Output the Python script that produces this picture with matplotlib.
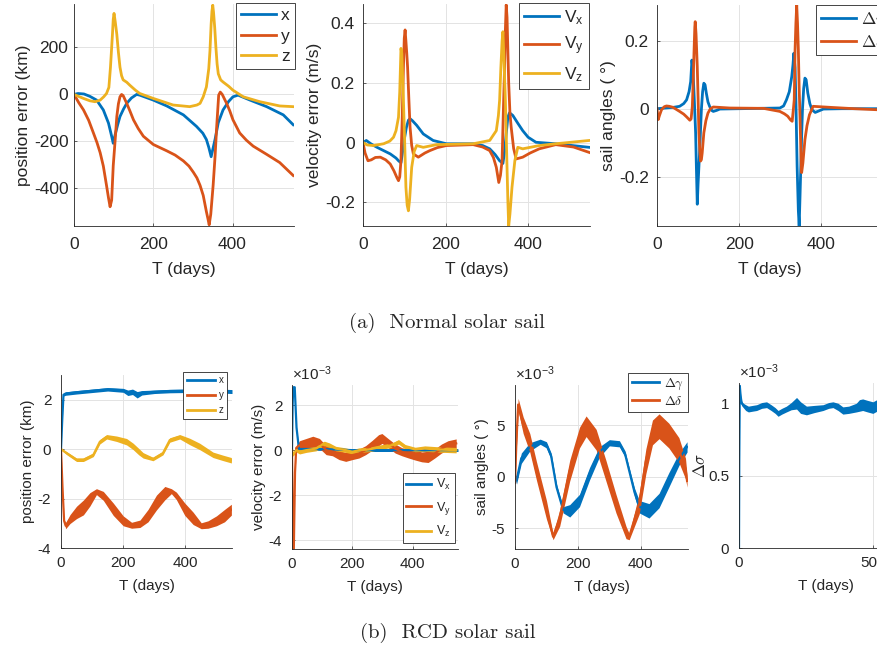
import matplotlib
matplotlib.use("Agg")
import matplotlib.pyplot as plt

W, H = 877, 653

BLUE = "#0072BD"
RED = "#D95319"
YEL = "#EDB120"
INK = "#262626"

# ---- (a) normal solar sail: position error (km)
pos_x_t = [0, 10, 25, 40, 57, 74, 87, 95, 99, 104, 110, 116, 125, 133, 145, 158, 166, 200, 234, 276, 309,
           325, 334, 340, 346, 350, 356, 364, 376, 390, 401, 414, 444, 486, 528, 553]
pos_x_v = [0, 4, 2, -8, -24, -66, -122, -178, -208, -170, -130, -94, -62, -38, -15, 0, -3, -24, -49, -87, -136,
           -165, -192, -225, -265, -235, -190, -120, -66, -30, -10, -3, -24, -52, -87, -129]
pos_y_t = [0, 12, 24, 37, 49, 58, 66, 74, 82, 87, 91, 95, 99, 104, 108, 112, 116, 120, 124, 133, 141, 150,
           162, 175, 200, 234, 255, 276, 290, 301, 310, 318, 326, 334, 338, 341, 345, 351, 356, 360, 365, 369,
           374, 385, 393, 401, 418, 435, 452, 486, 519, 553]
pos_y_v = [0, -35, -66, -110, -164, -205, -248, -305, -387, -440, -478, -450, -303, -190, -94, -40, -10, 0,
           -5, -38, -70, -108, -145, -178, -213, -240, -258, -283, -305, -331, -355, -387, -430, -499, -530,
           -555, -510, -387, -260, -136, -3, 10, 0, -38, -70, -108, -164, -195, -220, -255, -290, -345]
pos_z_t = [0, 24, 40, 53, 66, 75, 82, 88, 92, 95, 97, 99, 101, 104, 108, 112, 116, 120, 124, 133, 141, 155,
           166, 200, 250, 292, 310, 318, 326, 334, 340, 343, 346, 348, 350, 352, 355, 358, 361, 364, 370, 376,
           390, 401, 427, 469, 519, 553]
pos_z_v = [0, -17, -27, -31, -24, -10, 4, 30, 116, 200, 256, 320, 345, 310, 256, 180, 116, 80, 62, 52, 39,
           18, 4, -17, -45, -52, -45, -38, -10, 32, 110, 186, 300, 354, 380, 350, 284, 200, 130, 88, 62, 53,
           35, 18, -10, -31, -49, -52]

# velocity error (m/s)
vel_x_t = [0, 8, 20, 34, 50, 66, 80, 86, 92, 96, 100, 105, 110, 114, 120, 130, 146, 170, 202, 267, 290, 307,
           320, 331, 339, 343, 347, 351, 355, 363, 375, 387, 400, 419, 467, 548]
vel_x_v = [0, 0.007, -0.005, -0.016, -0.027, -0.038, -0.052, -0.061, -0.068, -0.03, 0.01, 0.05, 0.075, 0.08,
           0.073, 0.058, 0.029, 0.007, -0.004, -0.004, -0.01, -0.021, -0.04, -0.061, -0.07, -0.03, 0.03,
           0.085, 0.1, 0.091, 0.065, 0.04, 0.018, 0.001, -0.004, -0.016]
vel_y_t = [0, 5, 12, 20, 30, 42, 55, 66, 75, 82, 86, 89, 92, 95, 98, 100, 102, 104, 106, 108, 111, 114, 118,
           122, 134, 150, 162, 180, 202, 267, 290, 307, 316, 323, 329, 333, 337, 340, 343, 345, 347, 349, 351,
           353, 356, 359, 365, 371, 387, 405, 427, 467, 510, 548]
vel_y_v = [0, -0.035, -0.061, -0.058, -0.05, -0.049, -0.058, -0.072, -0.095, -0.117, -0.128, -0.115, -0.06,
           0.08, 0.254, 0.35, 0.378, 0.34, 0.3, 0.254, 0.15, 0.052, -0.01, -0.038, -0.049, -0.035, -0.027,
           -0.017, -0.01, -0.007, -0.015, -0.027, -0.05, -0.083, -0.134, -0.11, -0.06, 0.1, 0.254, 0.38,
           0.462, 0.42, 0.31, 0.2, 0.1, 0.052, -0.02, -0.055, -0.049, -0.035, -0.021, -0.007, -0.015, -0.033]
vel_z_t = [0, 10, 25, 50, 65, 74, 80, 86, 89, 92, 94, 96, 98, 101, 104, 107, 110, 113, 118, 124, 130, 146,
           178, 267, 307, 323, 328, 331, 334, 337, 339, 341, 343, 345, 348, 351, 353, 356, 361, 368, 375, 387,
           427, 467, 548]
vel_z_v = [0, -0.008, -0.01, -0.004, 0.005, 0.018, 0.04, 0.085, 0.17, 0.316, 0.3, 0.22, 0.142, 0.0, -0.15,
           -0.21, -0.229, -0.19, -0.083, -0.03, -0.01, -0.016, -0.007, -0.004, 0.007, 0.04, 0.09, 0.142, 0.25,
           0.34, 0.372, 0.3, 0.22, 0.142, -0.03, -0.196, -0.28, -0.24, -0.15, -0.06, -0.016, -0.021, -0.01,
           -0.004, 0.007]

# sail angles (deg)
ang_g_t = [0, 20, 40, 55, 65, 72, 78, 82, 85, 87, 89, 91, 94, 96, 98, 100, 102, 104, 106, 108, 111, 114, 117,
           120, 124, 128, 133, 137, 145, 153, 200, 250, 299, 308, 315, 322, 328, 331, 333, 336, 338, 341, 344,
           346, 348, 350, 352, 354, 357, 360, 363, 367, 372, 377, 385, 395, 405, 450, 500, 550]
ang_g_v = [0, 0.002, 0.004, 0.007, 0.015, 0.026, 0.05, 0.08, 0.143, 0.12, 0.075, 0.02, -0.071, -0.18, -0.281,
           -0.22, -0.17, -0.12, -0.06, -0.003, 0.05, 0.075, 0.07, 0.046, 0.02, 0.007, -0.005, -0.008, -0.005,
           -0.001, 0.0, 0.001, 0.002, 0.008, 0.026, 0.05, 0.095, 0.13, 0.163, 0.12, 0.026, -0.169, -0.3, -0.345,
           -0.26, -0.169, -0.08, -0.003, 0.06, 0.09, 0.085, 0.046, 0.015, -0.003, -0.011, -0.006, -0.001, 0.0,
           0.0, 0.0]
ang_d_t = [0, 3, 6, 11, 18, 23, 30, 39, 55, 65, 72, 80, 83, 86, 88, 90, 92, 93, 95, 98, 100, 102, 104, 106,
           108, 110, 114, 119, 124, 130, 137, 177, 259, 299, 310, 318, 325, 329, 332, 334, 336, 338, 340, 342,
           344, 346, 348, 350, 352, 355, 360, 365, 371, 380, 421, 480, 535, 550]
ang_d_v = [0, -0.032, -0.02, -0.003, 0.006, 0.008, 0.007, 0.004, -0.008, -0.016, -0.024, -0.034, -0.03, 0.007,
           0.08, 0.163, 0.24, 0.256, 0.22, 0.124, 0.03, -0.071, -0.12, -0.154, -0.15, -0.13, -0.071, -0.035,
           -0.013, 0.0, 0.005, 0.002, 0.001, -0.008, -0.015, -0.022, -0.033, -0.037, 0.0, 0.026, 0.173, 0.25,
           0.305, 0.25, 0.173, 0.06, -0.022, -0.12, -0.188, -0.16, -0.091, -0.05, -0.018, 0.007, 0.004, 0.0,
           -0.003, -0.003]

# ---- (b) RCD solar sail: noisy curves given as centre +- half width
rp_x_t = [0, 4, 8, 15, 50, 100, 150, 200, 215, 230, 245, 260, 300, 350, 400, 450, 500, 550]
rp_x_c = [0, 1.2, 2.2, 2.25, 2.3, 2.36, 2.42, 2.38, 2.28, 2.32, 2.2, 2.28, 2.32, 2.35, 2.36, 2.36, 2.36, 2.33]
rp_x_w = [0.02, 0.02, 0.05, 0.07, 0.07, 0.07, 0.07, 0.08, 0.11, 0.11, 0.13, 0.09, 0.07, 0.07, 0.07, 0.07, 0.08, 0.08]
rp_y_t = [0, 5, 10, 15, 29, 50, 72, 93, 114, 136, 168, 200, 227, 254, 280, 307, 334, 355, 371, 398, 425, 451,
          473, 500, 526, 548]
rp_y_c = [0, -1.6, -2.9, -3.1, -2.83, -2.56, -2.36, -2.03, -1.72, -1.89, -2.43, -2.9, -3.08, -3.02, -2.69,
          -2.16, -1.78, -1.7, -1.89, -2.43, -2.8, -3.1, -3.05, -2.9, -2.69, -2.45]
rp_y_w = [0.02, 0.02, 0.06, 0.12, 0.18, 0.25, 0.3, 0.27, 0.12, 0.18, 0.25, 0.2, 0.12, 0.15, 0.25, 0.3, 0.27,
          0.1, 0.15, 0.25, 0.25, 0.12, 0.15, 0.2, 0.25, 0.22]
rp_z_t = [0, 18, 50, 72, 104, 125, 147, 179, 211, 232, 250, 264, 296, 328, 350, 382, 414, 446, 489, 520, 548]
rp_z_c = [0, -0.16, -0.43, -0.43, -0.23, 0.3, 0.5, 0.42, 0.3, 0.11, -0.1, -0.25, -0.4, -0.16, 0.37, 0.5, 0.31,
          0.11, -0.23, -0.35, -0.45]
rp_z_w = [0.03, 0.06, 0.07, 0.07, 0.07, 0.09, 0.09, 0.11, 0.13, 0.13, 0.13, 0.11, 0.07, 0.07, 0.09, 0.09, 0.13,
          0.13, 0.11, 0.11, 0.11]

# velocity error, units of 1e-3 m/s
rv_x_t = [0, 2, 4, 9, 15, 23, 100, 200, 300, 400, 500, 550]
rv_x_c = [0, 2.0, 2.8, 2.8, 1.0, 0.05, 0.05, 0.0, 0.0, 0.0, 0.0, 0.0]
rv_x_w = [0.02, 0.02, 0.02, 0.02, 0.02, 0.05, 0.06, 0.06, 0.06, 0.06, 0.06, 0.06]
rv_y_t = [0, 3, 6, 10, 14, 25, 47, 69, 91, 113, 134, 156, 178, 200, 222, 244, 266, 287, 298, 320, 342, 364,
          386, 408, 430, 451, 473, 495, 517, 544]
rv_y_c = [0, -4.4, -4.4, -1.0, 0.1, 0.22, 0.3, 0.37, 0.3, 0.0, -0.07, -0.22, -0.3, -0.22, -0.15, 0.0, 0.22,
          0.44, 0.52, 0.3, 0.07, -0.07, -0.15, -0.22, -0.3, -0.3, -0.15, 0.07, 0.22, 0.3]
rv_y_w = [0.02, 0.02, 0.02, 0.05, 0.1, 0.2, 0.22, 0.25, 0.22, 0.2, 0.18, 0.2, 0.2, 0.2, 0.2, 0.2, 0.22, 0.25,
          0.22, 0.2, 0.2, 0.18, 0.2, 0.22, 0.22, 0.25, 0.2, 0.2, 0.2, 0.2]
rv_z_t = [0, 3, 14, 25, 47, 80, 107, 124, 145, 178, 200, 222, 255, 287, 331, 353, 375, 408, 440, 484, 544]
rv_z_c = [0, -0.22, 0, -0.07, 0, 0.07, 0.3, 0.22, 0.07, 0, -0.07, 0, 0.03, 0.12, 0.22, 0.37, 0.15, 0.03,
          0.07, 0.03, 0.0]
rv_z_w = [0.02, 0.05, 0.08, 0.1, 0.1, 0.1, 0.1, 0.1, 0.1, 0.1, 0.1, 0.1, 0.1, 0.1, 0.1, 0.1, 0.1, 0.1, 0.12,
          0.12, 0.12]

# sail angles, units of 1e-3 deg
ra_g_t = [0, 5, 20, 47, 80, 100, 115, 132, 153, 174, 205, 237, 268, 300, 332, 350, 363, 380, 395, 426, 458,
          489, 521, 547]
ra_g_c = [0, -0.3, 1.8, 2.9, 3.4, 3.1, 2.0, -1.0, -3.2, -3.3, -2.3, 0.3, 2.4, 3.3, 3.2, 2.2, 0.6, -1.5, -2.9,
          -3.3, -2.3, -0.3, 1.7, 2.9]
ra_g_w = [0.2, 0.4, 0.5, 0.4, 0.25, 0.3, 0.3, 0.3, 0.3, 0.6, 0.6, 0.6, 0.5, 0.3, 0.3, 0.3, 0.3, 0.4, 0.6, 0.7,
          0.7, 0.7, 0.6, 0.5]
ra_d_t = [0, 4, 10, 26, 47, 68, 100, 121, 142, 174, 205, 226, 258, 289, 321, 353, 363, 395, 416, 437, 458,
          489, 521, 542, 547]
ra_d_c = [-0.6, 3.0, 7.0, 5.0, 3.3, 0.6, -3.2, -5.8, -4.0, 0.6, 3.8, 4.9, 3.6, 0.6, -2.6, -5.4, -5.8, -2.6,
          1.5, 4.3, 4.9, 4.0, 2.6, 0.8, -0.4]
ra_d_w = [0.2, 0.5, 0.6, 0.8, 0.9, 0.9, 0.9, 0.3, 0.8, 1.0, 1.0, 1.0, 1.0, 1.0, 0.9, 0.6, 0.3, 1.0, 1.2, 1.2,
          1.2, 1.2, 1.2, 1.0, 0.6]

# sigma angle, units of 1e-3
rs_t = [0, 1, 3, 6, 10, 16, 25, 35, 50, 66, 85, 103, 120, 135, 146, 160, 177, 195, 215, 230, 252, 280, 314,
        335, 351, 370, 388, 410, 438, 450, 462, 480, 500, 515]
rs_c = [0, 0.6, 1.12, 1.05, 1.0, 0.985, 0.97, 0.96, 0.965, 0.97, 0.985, 0.99, 0.97, 0.95, 0.93, 0.945, 0.96,
        0.98, 1.0, 0.97, 0.95, 0.96, 0.97, 0.985, 0.99, 0.975, 0.95, 0.955, 0.97, 0.985, 0.99, 0.98, 0.97,
        0.985]
rs_w = [0.005, 0.01, 0.01, 0.015, 0.015, 0.015, 0.02, 0.02, 0.02, 0.02, 0.02, 0.02, 0.02, 0.02, 0.02, 0.02,
        0.02, 0.025, 0.04, 0.04, 0.03, 0.025, 0.02, 0.02, 0.02, 0.025, 0.025, 0.025, 0.03, 0.04, 0.04, 0.04,
        0.04, 0.04]

plt.rcParams["font.family"] = ["Liberation Sans", "DejaVu Sans"]
plt.rcParams["axes.unicode_minus"] = False
plt.rcParams["mathtext.default"] = "regular"

fig = plt.figure(figsize=(W / 100, H / 100), dpi=100)

GAMMA = r"$\mathrm{\Delta}\mathit{\gamma}$"
DELTA = r"$\mathrm{\Delta}\mathit{\delta}$"
SIGMA = r"$\mathrm{\Delta}\mathit{\sigma}$"


def add_ax(left, top, width, height):
    return fig.add_axes([left / W, 1 - (top + height) / H, width / W, height / H])


def style(ax, size, xpad, ypad):
    for s in ("top", "right"):
        ax.spines[s].set_visible(False)
    for s in ("left", "bottom"):
        ax.spines[s].set_color(INK)
        ax.spines[s].set_linewidth(0.6)
    ax.tick_params(direction="in", length=2.5, width=0.5, color=INK, labelcolor=INK, labelsize=size)
    ax.tick_params(axis="x", pad=xpad)
    ax.tick_params(axis="y", pad=ypad)
    ax.grid(True, color="#e3e3e3", linewidth=0.7)
    ax.set_axisbelow(True)


def legend(ax, size, anchor, loc="upper right", math_cm=False, handles=None, **kw):
    prop = {"size": size}
    if math_cm:
        prop["math_fontfamily"] = "cm"
    extra = {} if handles is None else {"handles": handles}
    lg = ax.legend(loc=loc, bbox_to_anchor=(anchor[0] / W, 1 - anchor[1] / H),
                   bbox_transform=fig.transFigure, prop=prop, fancybox=False,
                   framealpha=1, edgecolor=INK, borderaxespad=0, **extra, **kw)
    lg.get_frame().set_linewidth(0.6)
    for t in lg.get_texts():
        t.set_color(INK)
    return lg


def band(ax, t, c, w, color):
    lo = [a - b for a, b in zip(c, w)]
    hi = [a + b for a, b in zip(c, w)]
    ax.fill_between(t, lo, hi, color=color, linewidth=0)
    ax.plot(t, c, color=color, lw=1.6)


def times_label(ax):
    ax.text(0, 1.01, r"$\times$10$^{-3}$", transform=ax.transAxes, fontsize=FS_BOT, color=INK,
            va="bottom", ha="left")


LW = 2.0
FS_TOP = 12.5
FS_BOT = 11

# ---------- top row ----------
ax1 = add_ax(74, 4, 220, 222)
ax1.plot(pos_x_t, pos_x_v, color=BLUE, lw=LW, label="x")
ax1.plot(pos_y_t, pos_y_v, color=RED, lw=LW, label="y")
ax1.plot(pos_z_t, pos_z_v, color=YEL, lw=LW, label="z")
ax1.set_xlim(0, 555)
ax1.set_ylim(-560, 385)
ax1.set_yticks([-400, -200, 0, 200])
ax1.set_xticks([0, 200, 400])
style(ax1, FS_TOP, 8, 4)
ax1.set_ylabel("position error (km)", fontsize=FS_TOP, color=INK, labelpad=2)
ax1.set_xlabel("T (days)", fontsize=FS_TOP, color=INK, labelpad=7)
legend(ax1, FS_TOP, (295, 3), handlelength=2.0, handletextpad=0.3, borderpad=0.3, labelspacing=0.3)

ax2 = add_ax(363, 4, 227, 222)
ax2.plot(vel_x_t, vel_x_v, color=BLUE, lw=LW, label="V$_x$")
ax2.plot(vel_y_t, vel_y_v, color=RED, lw=LW, label="V$_y$")
ax2.plot(vel_z_t, vel_z_v, color=YEL, lw=LW, label="V$_z$")
ax2.set_xlim(0, 550)
ax2.set_ylim(-0.28, 0.465)
ax2.set_yticks([-0.2, 0, 0.2, 0.4])
ax2.set_yticklabels(["-0.2", "0", "0.2", "0.4"])
ax2.set_xticks([0, 200, 400])
style(ax2, FS_TOP, 8, 6)
ax2.set_ylabel("velocity error (m/s)", fontsize=FS_TOP, color=INK, labelpad=2)
ax2.set_xlabel("T (days)", fontsize=FS_TOP, color=INK, labelpad=7)
legend(ax2, FS_TOP, (589, 3), handlelength=2.0, handletextpad=0.3, borderpad=0.3, labelspacing=0.45)

ax3 = add_ax(657, 5, 226, 221)
ax3.plot(ang_g_t, ang_g_v, color=BLUE, lw=LW, label=GAMMA)
ax3.plot(ang_d_t, ang_d_v, color=RED, lw=LW, label=DELTA)
ax3.set_xlim(0, 550)
ax3.set_ylim(-0.345, 0.305)
ax3.set_yticks([-0.2, 0, 0.2])
ax3.set_yticklabels(["-0.2", "0", "0.2"])
ax3.set_xticks([0, 200, 400])
style(ax3, FS_TOP, 8, 6)
ax3.set_ylabel("sail angles ( °)", fontsize=FS_TOP, color=INK, labelpad=2)
ax3.set_xlabel("T (days)", fontsize=FS_TOP, color=INK, labelpad=7)
legend(ax3, FS_TOP, (816, 5), loc="upper left", math_cm=True, handlelength=2.0,
       handletextpad=0.3, borderpad=0.3, labelspacing=0.25)

fig.text(447 / W, 1 - 323 / H, "(a)  Normal solar sail", family="cmr10", fontsize=15,
         color=INK, ha="center", va="center")

# ---------- bottom row ----------
ax4 = add_ax(61, 375, 171, 173)
band(ax4, rp_x_t, rp_x_c, rp_x_w, BLUE)
band(ax4, rp_y_t, rp_y_c, rp_y_w, RED)
band(ax4, rp_z_t, rp_z_c, rp_z_w, YEL)
h4 = [ax4.plot([], [], color=c, lw=2, label=s)[0] for c, s in ((BLUE, "x"), (RED, "y"), (YEL, "z"))]
ax4.set_xlim(0, 550)
ax4.set_ylim(-4, 3)
ax4.set_yticks([-4, -2, 0, 2])
ax4.set_xticks([0, 200, 400])
style(ax4, FS_BOT, 6, 7)
ax4.set_ylabel("position error (km)", fontsize=FS_BOT, color=INK, labelpad=2)
ax4.set_xlabel("T (days)", fontsize=FS_BOT, color=INK, labelpad=6)
legend(ax4, 7, (227, 372), handles=h4, handlelength=2.9, handletextpad=0.4,
       borderpad=0.35, labelspacing=0.5)

ax5 = add_ax(292, 385, 166, 164)
band(ax5, rv_x_t, rv_x_c, rv_x_w, BLUE)
band(ax5, rv_y_t, rv_y_c, rv_y_w, RED)
band(ax5, rv_z_t, rv_z_c, rv_z_w, YEL)
h5 = [ax5.plot([], [], color=c, lw=2, label=s)[0]
      for c, s in ((BLUE, "V$_x$"), (RED, "V$_y$"), (YEL, "V$_z$"))]
ax5.set_xlim(0, 550)
ax5.set_ylim(-4.4, 2.9)
ax5.set_yticks([-4, -2, 0, 2])
ax5.set_xticks([0, 200, 400])
style(ax5, FS_BOT, 6, 7)
ax5.set_ylabel("velocity error (m/s)", fontsize=FS_BOT, color=INK, labelpad=2)
ax5.set_xlabel("T (days)", fontsize=FS_BOT, color=INK, labelpad=6)
times_label(ax5)
legend(ax5, 9, (455, 543), loc="lower right", handles=h5, handlelength=2.0, handletextpad=0.4,
       borderpad=0.3, labelspacing=0.6)

ax6 = add_ax(515, 385, 173, 164)
band(ax6, ra_g_t, ra_g_c, ra_g_w, BLUE)
band(ax6, ra_d_t, ra_d_c, ra_d_w, RED)
h6 = [ax6.plot([], [], color=c, lw=2, label=s)[0] for c, s in ((BLUE, GAMMA), (RED, DELTA))]
ax6.set_xlim(0, 550)
ax6.set_ylim(-7, 8.9)
ax6.set_yticks([-5, 0, 5])
ax6.set_xticks([0, 200, 400])
style(ax6, FS_BOT, 6, 7)
ax6.set_ylabel("sail angles ( °)", fontsize=FS_BOT, color=INK, labelpad=2)
ax6.set_xlabel("T (days)", fontsize=FS_BOT, color=INK, labelpad=6)
times_label(ax6)
legend(ax6, 9.5, (688, 373), math_cm=True, handles=h6, handlelength=2.0, handletextpad=0.4,
       borderpad=0.3, labelspacing=0.2)

ax7 = add_ax(739, 383, 174, 165)
band(ax7, rs_t, rs_c, rs_w, BLUE)
ax7.set_xlim(0, 650)
ax7.set_ylim(0, 1.14)
ax7.set_yticks([0, 0.5, 1])
ax7.set_yticklabels(["0", "0.5", "1"])
ax7.set_xticks([0, 500])
style(ax7, FS_BOT, 6, 7)
ax7.set_ylabel(SIGMA, fontsize=FS_BOT + 1, color=INK, labelpad=0, math_fontfamily="cm")
ax7.set_xlabel("T (days)", fontsize=FS_BOT, color=INK, labelpad=6)
times_label(ax7)

fig.text(448 / W, 1 - 633 / H, "(b)  RCD solar sail", family="cmr10", fontsize=15,
         color=INK, ha="center", va="center")

fig.savefig("out.png", dpi=100)
